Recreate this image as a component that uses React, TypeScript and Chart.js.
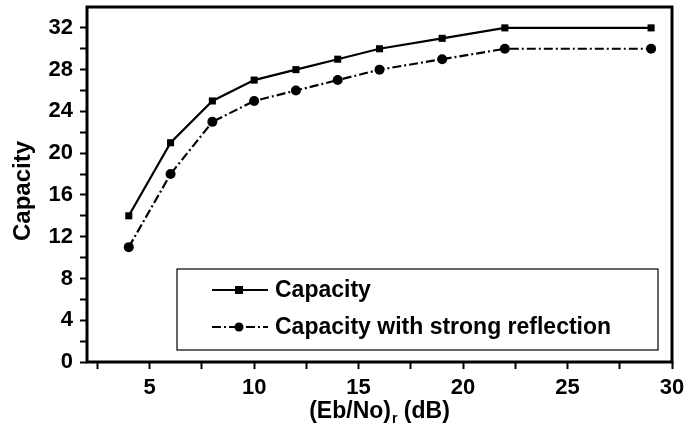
import React, { useEffect, useRef } from "react";
import { Chart, registerables } from "chart.js";

Chart.register(...registerables);

const xValues = [4, 6, 8, 10, 12, 14, 16, 19, 22, 29];
const capacity = [14, 21, 25, 27, 28, 29, 30, 31, 32, 32];
const capacityReflection = [11, 18, 23, 25, 26, 27, 28, 29, 30, 30];
const seriesNames = ["Capacity", "Capacity with strong reflection"];
const xTickValues = [2.5, 5, 7.5, 10, 12.5, 15, 17.5, 20, 22.5, 25, 27.5, 30];
const yTickValues = [0, 2, 4, 6, 8, 10, 12, 14, 16, 18, 20, 22, 24, 26, 28, 30, 32];
const yTitle = "Capacity";
const xTitleMain = "(Eb/No)";
const xTitleSub = "r";
const xTitleTail = " (dB)";

const FONT = "'Liberation Sans', Arial, sans-serif";
const DASH = [9, 3, 2, 3];

const decorPlugin = {
  id: "decor",
  afterDraw(chart: any) {
    const ctx = chart.ctx;
    const a = chart.chartArea;
    ctx.save();
    // frame
    ctx.strokeStyle = "#000";
    ctx.lineWidth = 3;
    ctx.strokeRect(a.left, a.top, a.right - a.left, a.bottom - a.top);

    // y title
    ctx.fillStyle = "#000";
    ctx.font = "bold 24px " + FONT;
    ctx.textAlign = "center";
    ctx.textBaseline = "middle";
    ctx.save();
    ctx.translate(23, 191);
    ctx.rotate(-Math.PI / 2);
    ctx.fillText(yTitle, 0, 0);
    ctx.restore();

    // x title with subscript
    ctx.textBaseline = "alphabetic";
    ctx.textAlign = "left";
    const mainFont = "bold 23px " + FONT;
    const subFont = "bold 14px " + FONT;
    ctx.font = mainFont;
    const w1 = ctx.measureText(xTitleMain).width;
    const w3 = ctx.measureText(xTitleTail).width;
    ctx.font = subFont;
    const w2 = ctx.measureText(xTitleSub).width;
    const total = w1 + w2 + w3;
    let x = 379 - total / 2;
    const base = 418;
    ctx.font = mainFont;
    ctx.fillText(xTitleMain, x, base);
    x += w1;
    ctx.font = subFont;
    ctx.fillText(xTitleSub, x + 1, base + 5);
    x += w2 + 1;
    ctx.font = mainFont;
    ctx.fillText(xTitleTail, x, base);

    // legend box
    const lx = 177, ly = 269, lw = 481, lh = 81;
    ctx.fillStyle = "#fff";
    ctx.fillRect(lx, ly, lw, lh);
    ctx.strokeStyle = "#000";
    ctx.lineWidth = 1.2;
    ctx.strokeRect(lx, ly, lw, lh);

    const rows = [290, 327];
    const x0 = 212, x1 = 268, mx = 239;
    // row 1
    ctx.lineWidth = 2;
    ctx.setLineDash([]);
    ctx.beginPath();
    ctx.moveTo(x0, rows[0]);
    ctx.lineTo(x1, rows[0]);
    ctx.stroke();
    ctx.fillStyle = "#000";
    ctx.fillRect(mx - 4, rows[0] - 4, 8, 8);
    // row 2
    ctx.setLineDash(DASH);
    ctx.beginPath();
    ctx.moveTo(x0, rows[1]);
    ctx.lineTo(x1, rows[1]);
    ctx.stroke();
    ctx.setLineDash([]);
    ctx.beginPath();
    ctx.arc(mx, rows[1], 4.5, 0, Math.PI * 2);
    ctx.fill();

    ctx.font = "bold 23px " + FONT;
    ctx.textBaseline = "middle";
    ctx.textAlign = "left";
    ctx.fillText(seriesNames[0], 275, rows[0] + 1);
    ctx.fillText(seriesNames[1], 275, rows[1] + 1);
    ctx.restore();
  },
};

export default function App() {
  const ref = useRef<HTMLCanvasElement | null>(null);
  useEffect(() => {
    document.body.style.margin = "0";
    const canvas = ref.current!;
    const chart = new Chart(canvas, {
      type: "line",
      data: {
        datasets: [
          {
            label: seriesNames[0],
            data: xValues.map((x, i) => ({ x, y: capacity[i] })),
            borderColor: "#000",
            backgroundColor: "#000",
            borderWidth: 2.2,
            pointStyle: "rect",
            pointRadius: 5,
            pointBorderWidth: 0,
            tension: 0,
          },
          {
            label: seriesNames[1],
            data: xValues.map((x, i) => ({ x, y: capacityReflection[i] })),
            borderColor: "#000",
            backgroundColor: "#000",
            borderWidth: 2.2,
            borderDash: DASH,
            pointStyle: "circle",
            pointRadius: 5,
            pointBorderWidth: 0,
            tension: 0,
          },
        ],
      },
      options: {
        responsive: false,
        animation: false,
        layout: { padding: { top: 7, right: 13, left: 0, bottom: 0 } },
        plugins: { legend: { display: false }, tooltip: { enabled: false } },
        scales: {
          x: {
            type: "linear",
            min: 2,
            max: 30,
            afterBuildTicks: (s: any) => {
              s.ticks = xTickValues.map((v) => ({ value: v }));
            },
            afterFit: (s: any) => {
              s.height = 66;
              s.paddingLeft = 0;
              s.paddingRight = 0;
            },
            border: { display: false },
            grid: {
              drawOnChartArea: false,
              drawTicks: true,
              tickLength: 7,
              tickWidth: 2,
              tickColor: "#000",
            },
            ticks: {
              autoSkip: false,
              maxRotation: 0,
              padding: 6,
              color: "#000",
              font: { family: FONT, size: 22, weight: "bold" },
              callback: (v: any) => (Number(v) % 5 === 0 ? String(v) : ""),
            },
          },
          y: {
            type: "linear",
            min: 0,
            max: 34,
            afterBuildTicks: (s: any) => {
              s.ticks = yTickValues.map((v) => ({ value: v }));
            },
            afterFit: (s: any) => {
              s.width = 87;
              s.paddingTop = 0;
              s.paddingBottom = 0;
            },
            border: { display: false },
            grid: {
              drawOnChartArea: false,
              drawTicks: true,
              tickLength: 7,
              tickWidth: 2,
              tickColor: "#000",
            },
            ticks: {
              autoSkip: false,
              padding: 7,
              color: "#000",
              font: { family: FONT, size: 22, weight: "bold" },
              callback: (v: any) => (Number(v) % 4 === 0 ? String(v) : ""),
            },
          },
        },
      },
      plugins: [decorPlugin],
    } as any);
    return () => chart.destroy();
  }, []);
  return (
    <div style={{ position: "absolute", left: 0, top: 0, width: 685, height: 428, background: "#fff" }}>
      <canvas ref={ref} width={685} height={428} />
    </div>
  );
}
